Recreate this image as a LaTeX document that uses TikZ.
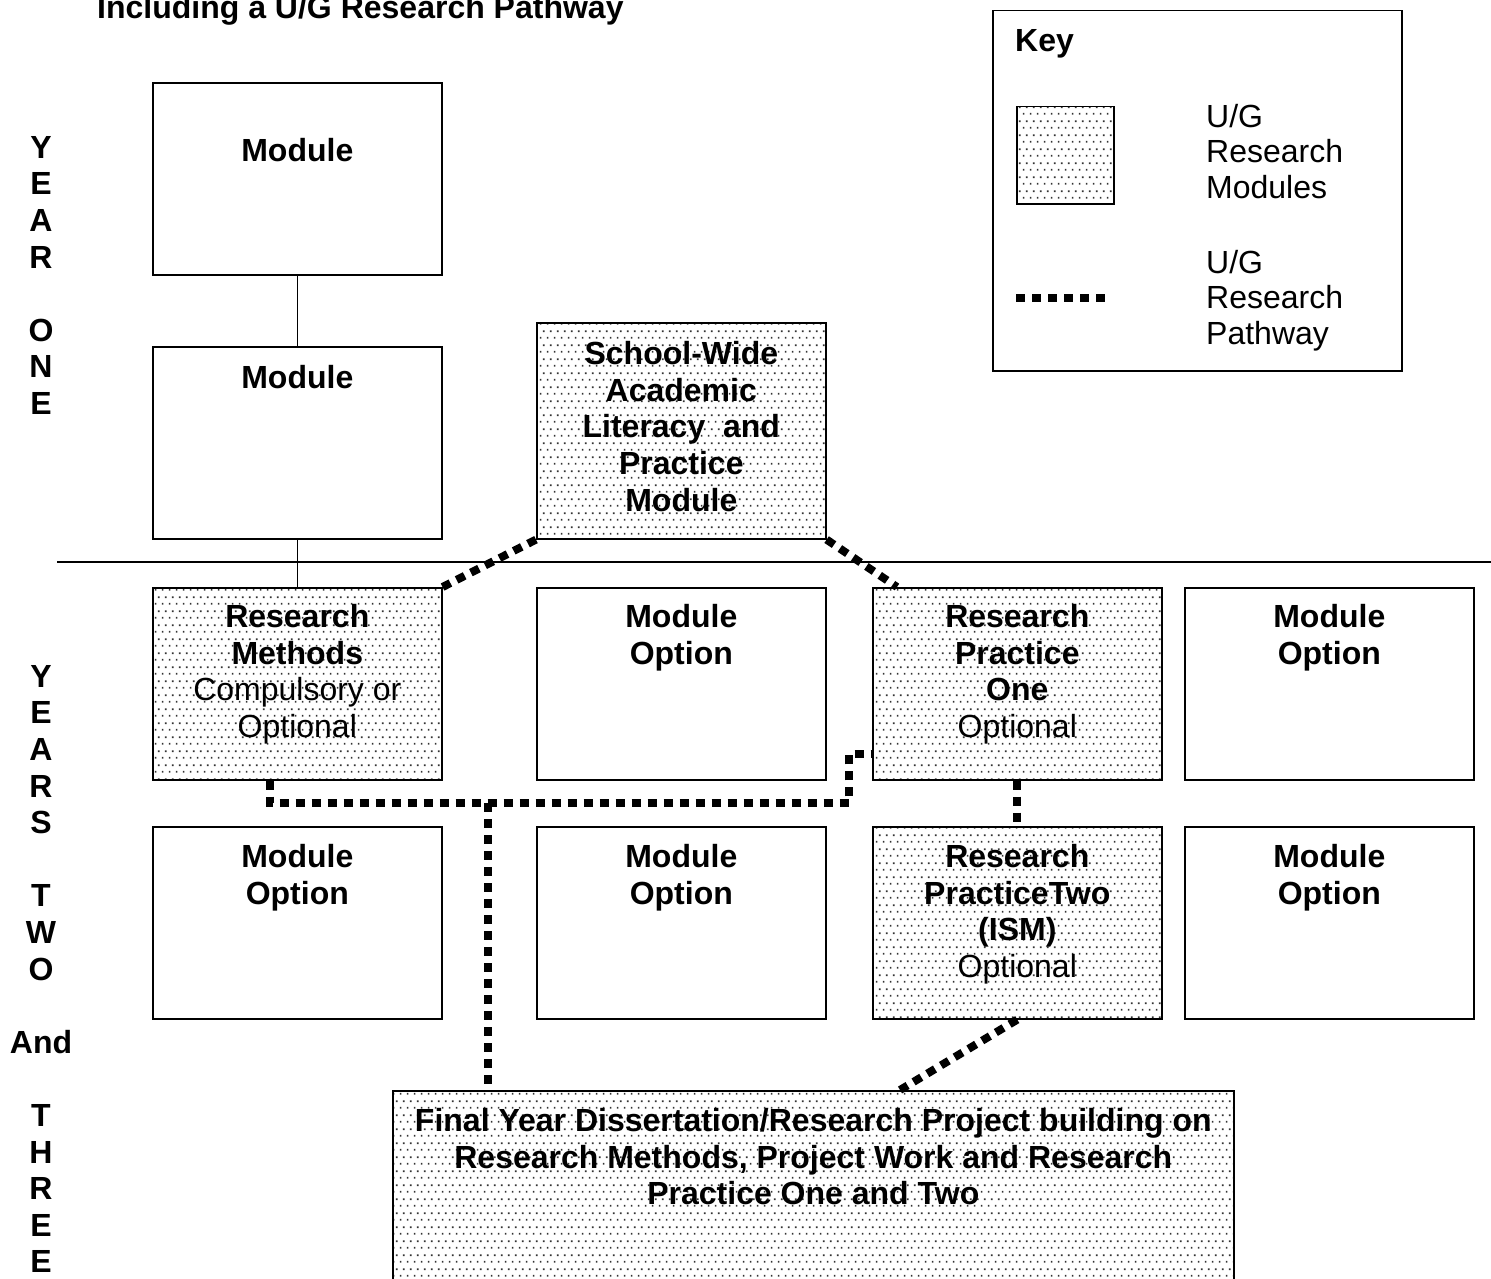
\documentclass[tikz,border=0pt]{standalone}
\usepackage{fontspec}
\setmainfont{Liberation Sans}
\usetikzlibrary{patterns.meta,calc}

\tikzdeclarepattern{
  name=wdots,
  type=uncolored,
  bounding box={(0pt,0pt) and (7pt,14pt)},
  tile size={(7pt,14pt)},
  code={
    \pgfpathrectangle{\pgfpoint{1pt}{2.5pt}}{\pgfpoint{1.8pt}{1.8pt}}
    \pgfpathrectangle{\pgfpoint{4.5pt}{9.5pt}}{\pgfpoint{1.8pt}{1.8pt}}
    \pgfusepath{fill}
  }
}

\tikzset{
  box/.style={draw, line width=1.6pt, rectangle, minimum width=289pt, minimum height=192pt, anchor=north west, inner sep=0pt},
  rbox/.style={box, pattern=wdots, pattern color=black!80},
  bt/.style={font=\bfseries\fontsize{32}{36.7}\selectfont, align=center, inner sep=0pt, anchor=north},
  kt/.style={font=\fontsize{32}{35.5}\selectfont, align=left, inner sep=0pt, anchor=north west},
  lt/.style={font=\bfseries\fontsize{32}{36.6}\selectfont, align=center, inner sep=0pt, anchor=north},
  pathway/.style={line width=8pt, dash pattern=on 9pt off 7pt},
  thinrule/.style={line width=1.5pt}
}

\begin{document}
\begin{tikzpicture}[x=1pt, y=-1pt]
\useasboundingbox (0,0) rectangle (1491,1279);

% title
\node[font=\bfseries\fontsize{32}{36}\selectfont, anchor=base west, inner sep=0pt] (title) at (97,19) {Including a U/G Research Pathway};

% side labels
\node[lt] (yr1) at (41,136) {Y\\E\\A\\R\\\mbox{}\\O\\N\\E};
\node[lt] (yr23) at (41,665) {Y\\E\\A\\R\\S\\\mbox{}\\T\\W\\O\\\mbox{}\\And\\\mbox{}\\T\\H\\R\\E\\E};

% horizontal rule
\coordinate (hl1) at (57,562);
\coordinate (hl2) at (1491,562);
\draw[thinrule] (hl1) -- (hl2);

% boxes
\node[box] (m1) at (152,82) {};
\node[box] (m2) at (152,346) {};
\node[rbox, minimum height=216pt] (sw) at (536,322) {};
\node[rbox] (rm) at (152,587) {};
\node[box] (mo1) at (536,587) {};
\node[rbox] (rp1) at (872,587) {};
\node[box] (mo2) at (1184,587) {};
\node[box] (mo3) at (152,826) {};
\node[box] (mo4) at (536,826) {};
\node[rbox] (rp2) at (872,826) {};
\node[box] (mo5) at (1184,826) {};
\node[rbox, minimum width=841pt, minimum height=205pt] (fin) at (392,1090) {};

% thin connectors
\draw[thinrule] (m1.south) -- (m2.north);
\draw[thinrule] (m2.south) -- (rm.north);

% texts
\node[bt] (tm1) at ($(m1.north)+(0,56)$) {Module};
\node[bt] (tm2) at ($(m2.north)+(0,19)$) {Module};
\node[bt] (tsw) at ($(sw.north)+(0,19)$) {School-Wide\\Academic\\Literacy\ \ and\\Practice\\Module};
\node[bt] (trm) at ($(rm.north)+(0,17)$) {Research\\Methods\\{\mdseries Compulsory or}\\{\mdseries Optional}};
\node[bt] (tmo1) at ($(mo1.north)+(0,17)$) {Module\\Option};
\node[bt] (trp1) at ($(rp1.north)+(0,17)$) {Research\\Practice\\One\\{\mdseries Optional}};
\node[bt] (tmo2) at ($(mo2.north)+(0,17)$) {Module\\Option};
\node[bt] (tmo3) at ($(mo3.north)+(0,18)$) {Module\\Option};
\node[bt] (tmo4) at ($(mo4.north)+(0,18)$) {Module\\Option};
\node[bt] (trp2) at ($(rp2.north)+(0,18)$) {Research\\PracticeTwo\\(ISM)\\{\mdseries Optional}};
\node[bt] (tmo5) at ($(mo5.north)+(0,18)$) {Module\\Option};
\node[bt] (tfin) at ($(fin.north)+(0,18)$) {Final Year Dissertation/Research Project building on\\Research Methods, Project Work and Research\\Practice One and Two};

% pathway
\coordinate (p1) at (270,803);
\coordinate (p2) at (849,803);
\coordinate (p3) at (849,754);
\coordinate (p4) at (488,803);
\draw[pathway] (sw.south west) -- (rm.north east);
\draw[pathway] (sw.south east) -- ($(rp1.north west)+(25,0)$);
\draw[pathway] (rm.south -| p1) -- (p1) -- (p2) -- (p3) -- (p3 -| rp1.west);
\draw[pathway] (p4) -- (p4 |- fin.north);
\draw[pathway] (rp1.south) -- (rp2.north);
\draw[pathway] (rp2.south) -- ($(fin.north west)+(508,0)$);

% key
\node[draw, line width=1.5pt, minimum width=409pt, minimum height=360pt, anchor=north west, inner sep=0pt] (key) at (992,10) {};
\node[font=\bfseries\fontsize{32}{36}\selectfont, anchor=base west, inner sep=0pt] (keyt) at (1015,52) {Key};
\node[draw, line width=1.5pt, pattern=wdots, pattern color=black!80, minimum width=97pt, minimum height=97pt, anchor=north west, inner sep=0pt] (ksq) at (1016,106) {};
\node[kt] (kt1) at (1206,104) {U/G\\Research\\Modules};
\coordinate (ks1) at (1016,298);
\coordinate (ks2) at (1105,298);
\draw[pathway] (ks1) -- (ks2);
\node[kt] (kt2) at (1206,250) {U/G\\Research\\Pathway};
\end{tikzpicture}
\end{document}
